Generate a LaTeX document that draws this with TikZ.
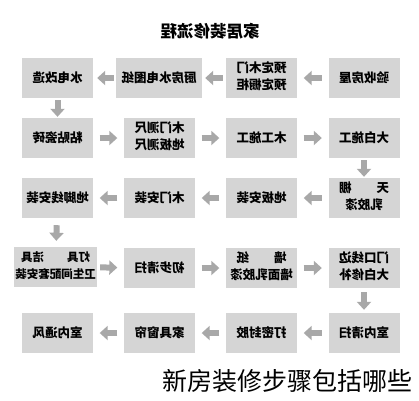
\documentclass[tikz,border=0pt]{standalone}
\usepackage{fontspec}
\usepackage{graphicx}
\newfontfamily\cjk{Noto Sans CJK SC}
\usetikzlibrary{arrows.meta}
\definecolor{boxgray}{HTML}{D5D5D5}
\definecolor{arrowgray}{HTML}{A8A8A8}
\newcommand\mir[1]{\reflectbox{#1}}
\newcommand\twol[2]{\reflectbox{\begin{tabular}{@{}c@{}}#1\\#2\end{tabular}}}
\begin{document}
\begin{tikzpicture}[x=1pt,y=-1pt,
  box/.style={fill=boxgray, minimum width=71pt, minimum height=40pt, inner sep=0pt,
    font=\cjk\bfseries\fontsize{12.5}{17}\selectfont, align=center},
  flow/.style={draw=arrowgray, line width=6pt, -{Triangle[length=8pt 0, width=14pt 0]}, shorten <=6.5pt, shorten >=6.5pt},
  vflow/.style={flow, shorten <=2pt, shorten >=1pt}]
\useasboundingbox (0,0) rectangle (419,400);
\fill[white] (0,0) rectangle (419,400);
\node[font=\cjk\bfseries\fontsize{16.5}{17}\selectfont] (title) at (210,31) {\mir{家居装修流程}};
% row 1
\node[box] (n11) at (57.5,78) {\mir{水电改造}};
\node[box, minimum width=86pt] (n12) at (159,78) {\mir{厨房水电图纸}};
\node[box] (n13) at (261.5,78) {\twol{预定木门}{预定橱柜}};
\node[box] (n14) at (364,78) {\mir{验收房屋}};
% row 2
\node[box] (n21) at (57.5,138) {\mir{粘贴瓷砖}};
\node[box] (n22) at (159.5,138) {\twol{木门测尺}{地板测尺}};
\node[box] (n23) at (261.5,138) {\mir{木工施工}};
\node[box] (n24) at (364,138) {\mir{大白施工}};
% row 3
\node[box] (n31) at (57.5,198) {\mir{地脚线安装}};
\node[box] (n32) at (159.5,198) {\mir{木门安装}};
\node[box] (n33) at (261.5,198) {\mir{地板安装}};
\node[box] (n34) at (364,198) {\twol{天\hspace{2em}棚}{乳胶漆}};
% row 4
\node[box, minimum width=83pt, font=\cjk\bfseries\fontsize{11.5}{17}\selectfont] (n41) at (55.5,267) {\twol{灯具\hspace{2em}洁具}{卫生间配套安装}};
\node[box] (n42) at (159.5,268) {\mir{初步清扫}};
\node[box] (n43) at (261.5,268) {\twol{墙\hspace{2em}纸}{墙面乳胶漆}};
\node[box] (n44) at (364,268) {\twol{门口线边}{大白修补}};
% row 5
\node[box] (n51) at (57.5,333) {\mir{室内通风}};
\node[box] (n52) at (159.5,333) {\mir{家具窗帘}};
\node[box] (n53) at (261.5,333) {\mir{打密封胶}};
\node[box] (n54) at (364,333) {\mir{室内清扫}};
% arrows
\draw[flow] (n14) -- (n13);
\draw[flow, shorten <=3pt, shorten >=3pt] (n13) -- (n12);
\draw[flow, shorten <=2pt, shorten >=4pt] (n12) -- (n11);
\draw[vflow] (n11) -- (n21);
\draw[flow] (n21) -- (n22);
\draw[flow] (n22) -- (n23);
\draw[flow] (n23) -- (n24);
\draw[vflow] (n24) -- (n34);
\draw[flow] (n34) -- (n33);
\draw[flow] (n33) -- (n32);
\draw[flow] (n32) -- (n31);
\draw[vflow, shorten <=7pt, shorten >=6pt] (n31) -- (n41);
\draw[flow, shorten <=3pt] (n41) -- (n42);
\draw[flow] (n42) -- (n43);
\draw[flow] (n43) -- (n44);
\draw[vflow, shorten <=4pt, shorten >=3pt] (n44) -- (n54);
\draw[flow] (n54) -- (n53);
\draw[flow] (n53) -- (n52);
\draw[flow] (n52) -- (n51);
% caption
\node[font=\cjk\fontsize{25}{25}\selectfont, inner sep=0pt] (caption) at (287,381) {新房装修步骤包括哪些};
\end{tikzpicture}
\end{document}
